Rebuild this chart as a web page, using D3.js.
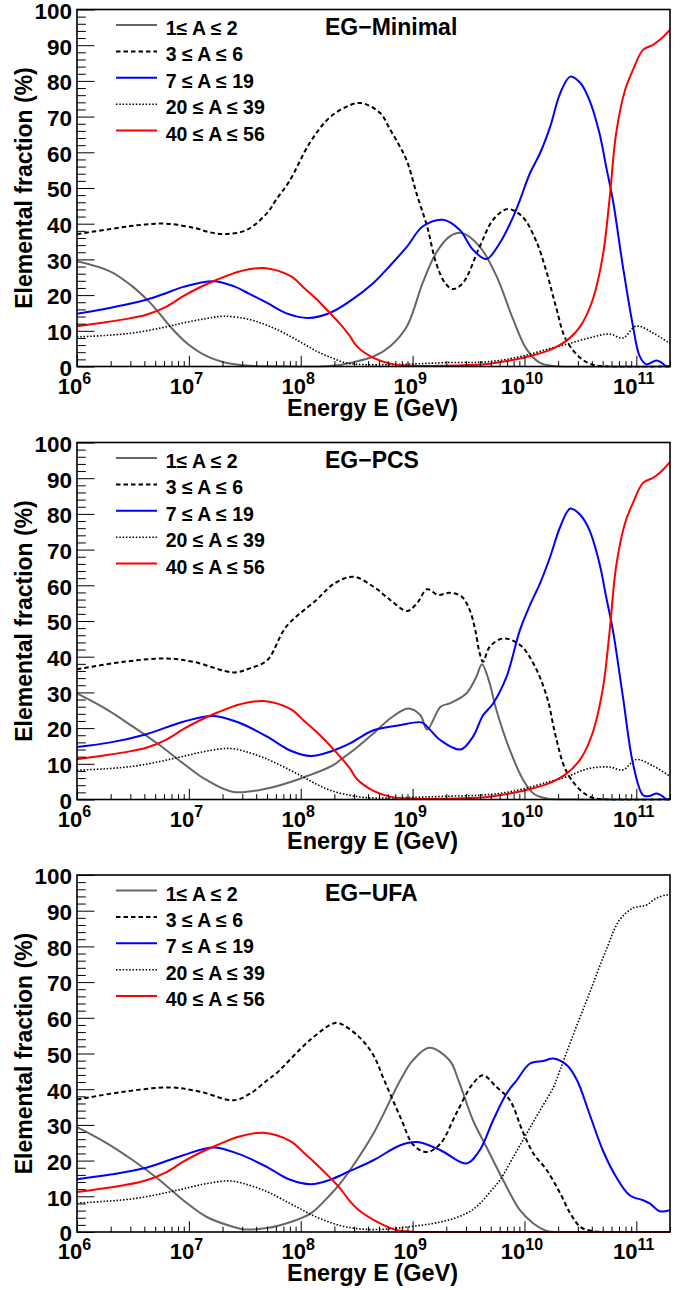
<!DOCTYPE html>
<html>
<head>
<meta charset="utf-8">
<script src="https://cdn.jsdelivr.net/npm/d3@7"></script>
<style>
  html, body { margin: 0; padding: 0; background: #fff; }
  svg { display: block; font-family: "Liberation Sans", Arial, Helvetica, sans-serif; font-weight: bold; }
</style>
</head>
<body>
<svg id="chart" width="691" height="1290"></svg>
<script>
// ---- Labels -------------------------------------------------------------
const massGroups = ["1\u2264 A \u2264 2", "3 \u2264 A \u2264 6", "7 \u2264 A \u2264 19", "20 \u2264 A \u2264 39", "40 \u2264 A \u2264 56"];
const modelNames = ["EG\u2212Minimal", "EG\u2212PCS", "EG\u2212UFA"];
const yTickValues = [0, 10, 20, 30, 40, 50, 60, 70, 80, 90, 100];
const xDecades = [6, 7, 8, 9, 10, 11];
const yTitle = "Elemental fraction (%)";
const xTitle = "Energy E (GeV)";

// ---- Elemental fractions: [log10(E / GeV), fraction in %] ---------------
// EG-Minimal
const minimalA1 = [[6.00,29.5],[6.30,26.6],[6.50,22.3],[6.64,18.3],[6.72,15.5],[6.83,11.3],[6.98,6.6],[7.16,2.9],[7.34,1.0],[7.55,0.2],[7.80,0],[8.20,0],[8.35,0.4],[8.44,1.0],[8.65,2.8],[8.80,5.7],[8.95,11.3],[9.09,23.4],[9.21,31.8],[9.33,36.4],[9.44,37.4],[9.60,33.6],[9.75,25.3],[9.90,13.1],[10.02,4.8],[10.14,1.0],[10.30,0],[11.30,0]];
const minimalA3 = [[6.00,37.1],[6.30,38.5],[6.55,39.6],[6.80,40.0],[7.05,38.8],[7.20,37.5],[7.34,37.1],[7.52,38.3],[7.70,43.0],[7.78,46.7],[7.90,52.0],[8.08,62.6],[8.25,69.5],[8.41,72.8],[8.54,73.8],[8.71,71.0],[8.80,66.3],[8.88,62.0],[8.95,57.5],[9.04,48.0],[9.13,39.2],[9.21,29.0],[9.29,23.4],[9.36,21.7],[9.45,23.4],[9.60,33.6],[9.72,41.1],[9.85,44.1],[9.98,42.0],[10.10,35.5],[10.20,26.2],[10.28,16.9],[10.37,7.6],[10.50,2.4],[10.61,0.5],[10.75,0],[11.30,0]];
const minimalA7 = [[6.00,14.8],[6.21,15.9],[6.42,17.2],[6.62,18.7],[6.80,20.6],[6.95,22.3],[7.22,23.9],[7.40,22.5],[7.55,20.2],[7.70,17.8],[7.88,14.8],[8.07,13.6],[8.26,15.0],[8.44,18.3],[8.65,23.4],[8.80,28.3],[8.95,33.6],[9.09,39.2],[9.27,41.1],[9.42,38.3],[9.54,32.7],[9.66,30.1],[9.78,34.6],[9.90,42.0],[9.96,46.7],[10.05,54.2],[10.14,59.8],[10.23,67.2],[10.32,76.6],[10.41,81.2],[10.50,79.4],[10.58,74.7],[10.67,65.4],[10.73,56.0],[10.79,46.7],[10.88,28.0],[10.97,11.3],[11.03,2.9],[11.09,0.6],[11.14,1.2],[11.18,1.7],[11.22,1.2],[11.27,0],[11.30,0]];
const minimalA20 = [[6.00,8.3],[6.25,8.7],[6.50,9.4],[6.75,10.8],[6.95,12.2],[7.15,13.4],[7.31,14.1],[7.55,13.1],[7.70,11.5],[7.85,9.4],[8.00,6.8],[8.14,4.3],[8.28,2.4],[8.41,1.0],[8.60,0.5],[9.00,0.7],[9.30,1.1],[9.60,1.2],[9.80,1.8],[9.98,2.9],[10.20,4.8],[10.37,6.2],[10.58,8.0],[10.76,9.1],[10.88,8.0],[11.00,11.3],[11.15,9.4],[11.30,6.4]];
const minimalA40 = [[6.00,11.3],[6.21,12.2],[6.42,13.2],[6.62,14.5],[6.80,16.8],[6.95,19.7],[7.10,22.2],[7.25,24.3],[7.46,26.7],[7.67,27.6],[7.91,25.3],[8.03,22.0],[8.14,18.9],[8.26,15.0],[8.35,12.0],[8.44,8.5],[8.50,5.7],[8.65,2.4],[8.80,0.8],[9.00,0.2],[9.30,0.2],[9.50,0.4],[9.69,0.8],[9.85,1.6],[9.98,2.4],[10.20,4.3],[10.37,7.1],[10.50,11.3],[10.61,18.7],[10.70,30.9],[10.76,46.7],[10.82,65.4],[10.90,77.5],[10.97,83.1],[11.06,88.7],[11.15,90.1],[11.21,91.5],[11.30,94.3]];

// EG-PCS
const pcsA1 = [[6.00,29.7],[6.25,25.5],[6.50,20.4],[6.74,15.2],[6.95,10.1],[7.16,5.4],[7.40,2.1],[7.70,3.1],[8.00,5.9],[8.29,9.6],[8.35,11.0],[8.50,14.5],[8.65,18.5],[8.80,22.7],[8.96,25.5],[9.07,23.6],[9.13,19.6],[9.25,26.0],[9.33,26.9],[9.48,29.7],[9.57,34.4],[9.62,37.9],[9.68,33.5],[9.75,25.0],[9.87,13.8],[9.99,5.4],[10.08,1.7],[10.20,0.3],[10.40,0],[11.30,0]];
const pcsA3 = [[6.00,36.5],[6.40,38.5],[6.80,39.5],[7.05,38.5],[7.40,35.6],[7.55,36.8],[7.70,39.0],[7.87,48.4],[8.14,55.9],[8.30,60.5],[8.47,62.4],[8.65,59.6],[8.80,55.9],[8.95,52.8],[9.04,55.0],[9.13,58.9],[9.23,57.3],[9.33,57.9],[9.44,56.8],[9.51,53.1],[9.56,47.5],[9.60,40.9],[9.63,38.6],[9.69,42.8],[9.81,45.1],[9.96,43.3],[10.08,38.1],[10.20,28.8],[10.28,17.6],[10.37,8.2],[10.50,2.6],[10.61,0.5],[10.75,0],[11.30,0]];
const pcsA7 = [[6.00,14.7],[6.30,16.0],[6.62,18.3],[6.95,21.8],[7.22,23.4],[7.45,21.5],[7.70,17.6],[7.90,13.8],[8.09,12.2],[8.28,13.6],[8.44,15.7],[8.65,19.4],[8.88,20.8],[9.08,21.6],[9.13,20.4],[9.25,16.6],[9.43,14.0],[9.54,17.6],[9.63,23.6],[9.72,26.9],[9.84,34.4],[9.96,47.5],[10.05,54.5],[10.14,60.6],[10.23,68.0],[10.32,76.4],[10.41,81.5],[10.50,79.7],[10.58,75.5],[10.67,66.2],[10.73,56.8],[10.79,47.5],[10.88,28.8],[10.97,10.1],[11.06,1.2],[11.12,1.0],[11.18,1.7],[11.23,1.0],[11.27,0],[11.30,0]];
const pcsA20 = [[6.00,8.2],[6.25,8.6],[6.50,9.3],[6.75,10.7],[6.95,12.1],[7.15,13.5],[7.37,14.3],[7.55,13.0],[7.70,11.3],[7.85,9.1],[8.00,6.7],[8.14,4.3],[8.28,2.4],[8.44,1.2],[8.60,0.5],[9.00,0.6],[9.30,0.9],[9.60,1.2],[9.80,1.8],[9.98,2.9],[10.20,4.8],[10.37,6.3],[10.58,8.7],[10.76,9.1],[10.88,8.3],[11.00,11.2],[11.15,9.4],[11.30,6.5]];
const pcsA40 = [[6.00,11.3],[6.21,12.2],[6.42,13.2],[6.62,14.5],[6.80,16.8],[6.95,19.7],[7.10,22.2],[7.25,24.3],[7.46,26.7],[7.67,27.6],[7.91,25.3],[8.03,22.0],[8.14,19.0],[8.26,15.2],[8.35,12.1],[8.44,8.7],[8.50,5.8],[8.65,2.4],[8.80,0.8],[9.00,0.2],[9.30,0.2],[9.50,0.4],[9.69,0.8],[9.85,1.6],[9.98,2.4],[10.20,4.3],[10.37,7.1],[10.50,11.3],[10.61,18.7],[10.70,30.9],[10.76,46.7],[10.82,65.4],[10.90,77.5],[10.97,83.1],[11.06,88.7],[11.15,90.1],[11.21,91.5],[11.30,94.5]];

// EG-UFA
const ufaA1 = [[6.00,29.4],[6.25,25.2],[6.50,20.1],[6.74,14.5],[6.95,8.9],[7.16,4.2],[7.40,1.4],[7.48,0.8],[7.70,1.1],[7.91,2.8],[8.09,5.2],[8.26,10.3],[8.35,13.5],[8.44,17.3],[8.65,27.6],[8.89,42.5],[9.00,48.0],[9.15,51.6],[9.33,48.1],[9.41,42.5],[9.54,31.3],[9.66,23.8],[9.81,14.5],[9.96,6.1],[10.08,2.4],[10.20,0.3],[10.40,0],[11.30,0]];
const ufaA3 = [[6.00,37.1],[6.40,39.2],[6.83,40.5],[7.10,39.3],[7.40,36.9],[7.55,38.8],[7.70,42.5],[7.78,44.4],[8.08,53.7],[8.29,58.4],[8.35,58.4],[8.52,54.7],[8.65,49.5],[8.74,43.0],[8.89,32.2],[9.01,24.3],[9.13,22.4],[9.25,24.8],[9.39,33.2],[9.54,41.6],[9.63,43.9],[9.75,40.6],[9.87,36.9],[9.98,28.5],[10.08,22.0],[10.20,17.3],[10.32,10.8],[10.41,5.2],[10.50,1.4],[10.60,0.3],[10.75,0],[11.30,0]];
const ufaA7 = [[6.00,14.8],[6.30,16.1],[6.62,18.0],[6.95,21.5],[7.22,23.7],[7.45,21.8],[7.70,18.2],[7.90,14.7],[8.09,13.4],[8.26,14.6],[8.44,17.1],[8.65,20.1],[8.89,24.3],[9.04,25.2],[9.25,22.9],[9.48,19.2],[9.60,22.9],[9.72,31.3],[9.84,38.8],[9.93,42.5],[10.05,47.2],[10.17,47.9],[10.26,48.6],[10.38,46.7],[10.47,42.5],[10.58,33.2],[10.70,22.9],[10.82,15.4],[10.94,10.3],[11.06,8.9],[11.12,8.0],[11.21,5.8],[11.30,6.1]];
const ufaA20 = [[6.00,8.1],[6.25,8.6],[6.50,9.3],[6.75,10.7],[6.95,12.1],[7.15,13.5],[7.37,14.3],[7.55,13.0],[7.70,11.3],[7.85,8.9],[8.00,6.4],[8.14,4.2],[8.28,2.5],[8.41,1.4],[8.60,0.7],[8.80,0.9],[8.95,1.4],[9.10,2.0],[9.25,2.8],[9.38,3.9],[9.48,5.2],[9.56,6.8],[9.63,8.9],[9.70,11.5],[9.78,14.5],[9.90,21.0],[10.02,27.6],[10.14,34.1],[10.26,40.6],[10.29,43.0],[10.44,55.6],[10.58,66.8],[10.73,79.0],[10.85,87.4],[10.97,90.7],[11.09,91.6],[11.18,93.5],[11.27,94.4],[11.30,94.2]];
const ufaA40 = [[6.00,11.2],[6.21,12.1],[6.42,13.1],[6.62,14.5],[6.80,16.8],[6.95,19.7],[7.10,22.2],[7.25,24.3],[7.46,26.8],[7.67,27.8],[7.91,25.4],[8.03,22.1],[8.14,19.0],[8.26,15.3],[8.35,12.3],[8.44,8.6],[8.52,6.1],[8.71,2.4],[8.85,0.6],[9.00,0.1],[9.20,0],[11.30,0]];

const panelSeries = [
  [minimalA1, minimalA3, minimalA7, minimalA20, minimalA40],
  [pcsA1, pcsA3, pcsA7, pcsA20, pcsA40],
  [ufaA1, ufaA3, ufaA7, ufaA20, ufaA40]
];

// ---- Styles -------------------------------------------------------------
const seriesColor = ["#666666", "#000000", "#0000ff", "#000000", "#ff0000"];
const seriesDash  = [null, "4.5,3", null, "1.5,1.8", null];
const seriesWidth = [2, 2, 2, 1.6, 2];

// ---- Layout -------------------------------------------------------------
const frameLeft = 77, frameRight = 670, frameHeight = 357;
const panelTops = [9.5, 442.5, 875];

const svg = d3.select("#chart");

panelTops.forEach((top, p) => {
  const bottom = top + frameHeight;
  const x = d3.scaleLog().domain([1e6, 2e11]).range([frameLeft, frameRight]);
  const y = d3.scaleLinear().domain([0, 100]).range([bottom, top]);
  const g = svg.append("g");

  const clipId = "clip" + p;
  g.append("clipPath").attr("id", clipId)
    .append("rect").attr("x", frameLeft).attr("y", top - 1)
    .attr("width", frameRight - frameLeft).attr("height", frameHeight + 2);

  // curves
  const line = d3.line()
    .x(d => x(Math.pow(10, d[0])))
    .y(d => y(d[1]))
    .curve(d3.curveCatmullRom.alpha(0.5));

  const curves = g.append("g").attr("clip-path", `url(#${clipId})`);
  panelSeries[p].forEach((series, i) => {
    curves.append("path")
      .attr("d", line(series))
      .attr("fill", "none")
      .attr("stroke", seriesColor[i])
      .attr("stroke-width", seriesWidth[i])
      .attr("stroke-dasharray", seriesDash[i])
      .attr("stroke-linejoin", "round");
  });

  // y axis: major and minor ticks drawn inside the frame
  const yMinor = d3.range(0, 101, 2).filter(v => v % 10 !== 0);
  g.append("g").attr("transform", `translate(${frameLeft},0)`)
    .call(d3.axisLeft(y).tickValues(yMinor).tickSize(-8.8).tickSizeOuter(0).tickFormat(""))
    .call(a => a.select(".domain").remove());
  const yAxis = g.append("g").attr("transform", `translate(${frameLeft},0)`)
    .call(d3.axisLeft(y).tickValues(yTickValues).tickSize(-17.5).tickSizeOuter(0).tickPadding(5).tickFormat(d3.format("d")))
    .call(a => a.select(".domain").remove());
  yAxis.selectAll("text")
    .attr("font-size", 22.5).attr("font-family", null).attr("fill", "#000")
    .attr("y", 1).attr("dy", "0.35em");

  // x axis: decades with 2..9 minor ticks
  const xMinor = [];
  xDecades.forEach(n => { for (let k = 2; k <= 9; k++) { const v = k * Math.pow(10, n); if (v <= 2e11) xMinor.push(v); } });
  g.append("g").attr("transform", `translate(0,${bottom})`)
    .call(d3.axisBottom(x).tickValues(xMinor).tickSize(-5.4).tickSizeOuter(0).tickFormat(""))
    .call(a => a.select(".domain").remove());
  const xAxis = g.append("g").attr("transform", `translate(0,${bottom})`)
    .call(d3.axisBottom(x).tickValues(xDecades.map(n => Math.pow(10, n))).tickSize(-10.7).tickSizeOuter(0).tickFormat(""))
    .call(a => a.select(".domain").remove());
  xAxis.selectAll(".tick").each(function (d) {
    const t = d3.select(this).append("text")
      .attr("x", -3).attr("y", 27).attr("text-anchor", "middle")
      .attr("fill", "#000").attr("font-size", 22);
    t.append("tspan").text("10");
    t.append("tspan").attr("dy", -9.5).attr("font-size", 16).text(Math.round(Math.log10(d)));
  });
  g.selectAll(".tick line").attr("stroke", "#000").attr("stroke-width", 1);

  // frame
  g.append("rect")
    .attr("x", frameLeft).attr("y", top)
    .attr("width", frameRight - frameLeft).attr("height", frameHeight)
    .attr("fill", "none").attr("stroke", "#000").attr("stroke-width", 1.6);

  // axis titles
  g.append("text")
    .attr("transform", `translate(31.5,${top + frameHeight / 2}) rotate(-90)`)
    .attr("text-anchor", "middle").attr("font-size", 23).text(yTitle);
  g.append("text")
    .attr("x", (frameLeft + frameRight) / 2 - 1).attr("y", bottom + 49)
    .attr("text-anchor", "middle").attr("font-size", 23.5).text(xTitle);

  // model name
  g.append("text").attr("x", 325).attr("y", top + 25.5)
    .attr("font-size", 23).text(modelNames[p]);

  // legend
  massGroups.forEach((label, i) => {
    const ly = top + 15.5 + i * 26.4;
    g.append("line")
      .attr("x1", 116).attr("x2", 157).attr("y1", ly).attr("y2", ly)
      .attr("stroke", seriesColor[i]).attr("stroke-width", seriesWidth[i])
      .attr("stroke-dasharray", seriesDash[i]);
    g.append("text").attr("x", 165.7).attr("y", top + 25.5 + i * 26.4)
      .attr("font-size", 19.5).text(label);
  });
});
</script>
</body>
</html>
